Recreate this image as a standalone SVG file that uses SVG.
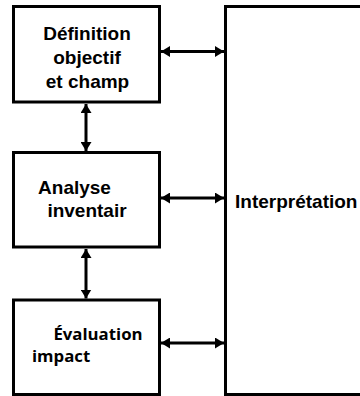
<svg xmlns="http://www.w3.org/2000/svg" width="360" height="396" viewBox="0 0 360 396">
<style>
.box{fill:#fff;stroke:#000;stroke-width:3}
.t{font-family:"Liberation Sans",Arial,sans-serif;font-weight:bold;font-size:19px;fill:#000}
.t2{font-family:"Open Sans","Noto Sans",sans-serif;font-weight:bold;font-size:16.8px;fill:#000}
.c{fill:none;stroke:#000;stroke-width:3;marker-start:url(#ah);marker-end:url(#ah)}
</style>
<defs>
<marker id="ah" viewBox="0 0 9 11" refX="9" refY="5.5" markerWidth="9" markerHeight="11" markerUnits="userSpaceOnUse" orient="auto-start-reverse">
<path d="M0,0 L9,5.5 L0,11 z" fill="#000"/>
</marker>
</defs>
<g id="connectors">
<path class="c" d="M161,51.5 H224"/>
<path class="c" d="M161,198 H224"/>
<path class="c" d="M161,343 H224"/>
<path class="c" d="M86,104 V151"/>
<path class="c" d="M86,249 V298.5"/>
</g>
<g id="definition">
<rect class="box" x="13.5" y="6.5" width="146" height="95.5"/>
<text class="t" x="87" y="40" text-anchor="middle">Définition</text>
<text class="t" x="87" y="64" text-anchor="middle">objectif</text>
<text class="t" x="87.5" y="88" text-anchor="middle">et champ</text>
</g>
<g id="analyse">
<rect class="box" x="13.5" y="152.5" width="146" height="94.5"/>
<text class="t" x="74.5" y="194" text-anchor="middle">Analyse</text>
<text class="t" x="87" y="217" text-anchor="middle">inventair</text>
</g>
<g id="evaluation">
<rect class="box" x="13.5" y="300" width="146" height="94.5"/>
<text class="t2" x="98" y="340" text-anchor="middle">Évaluation</text>
<text class="t2" x="32" y="362">impact</text>
</g>
<g id="interpretation">
<rect class="box" x="225.5" y="6.5" width="150" height="388"/>
<text class="t" x="235" y="208">Interprétation</text>
</g>
</svg>
